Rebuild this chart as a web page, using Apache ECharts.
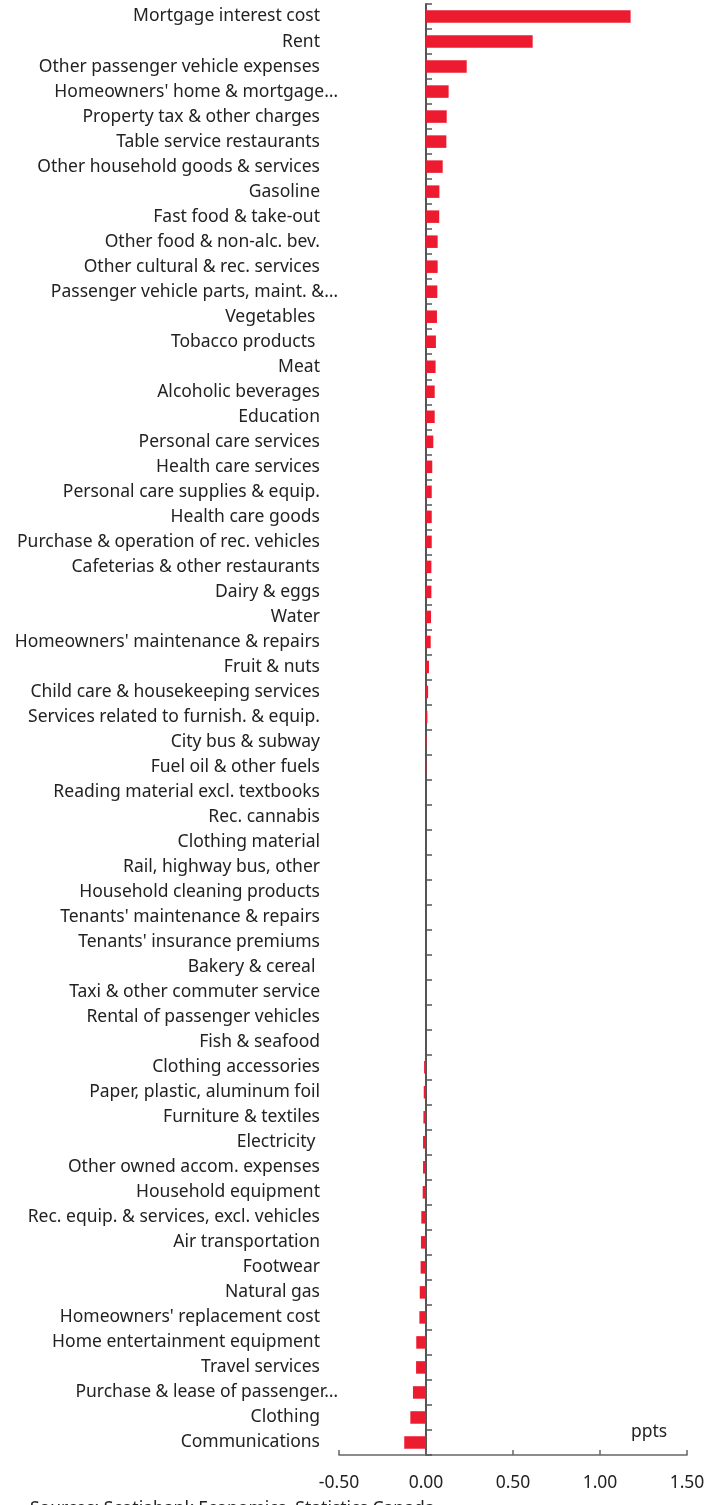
<!DOCTYPE html>
<html>
<head>
<meta charset="utf-8">
<script src="https://cdn.jsdelivr.net/npm/echarts@6/dist/echarts.min.js"></script>
<style>
  html, body { margin: 0; padding: 0; background: #fff; }
  #chart { width: 722px; height: 1505px; }
</style>
</head>
<body>
<div id="chart"></div>
<script>
// categories, top to bottom
var categories = [
  'Mortgage interest cost', 'Rent', 'Other passenger vehicle expenses',
  "Homeowners' home & mortgage…", 'Property tax & other charges',
  'Table service restaurants', 'Other household goods & services', 'Gasoline',
  'Fast food & take-out', 'Other food & non-alc. bev.', 'Other cultural & rec. services',
  'Passenger vehicle parts, maint. &…', 'Vegetables ', 'Tobacco products ', 'Meat',
  'Alcoholic beverages', 'Education', 'Personal care services', 'Health care services',
  'Personal care supplies & equip.', 'Health care goods',
  'Purchase & operation of rec. vehicles', 'Cafeterias & other restaurants',
  'Dairy & eggs', 'Water', "Homeowners' maintenance & repairs", 'Fruit & nuts',
  'Child care & housekeeping services', 'Services related to furnish. & equip.',
  'City bus & subway', 'Fuel oil & other fuels', 'Reading material excl. textbooks',
  'Rec. cannabis', 'Clothing material', 'Rail, highway bus, other',
  'Household cleaning products', "Tenants' maintenance & repairs",
  "Tenants' insurance premiums", 'Bakery & cereal ', 'Taxi & other commuter service',
  'Rental of passenger vehicles', 'Fish & seafood', 'Clothing accessories',
  'Paper, plastic, aluminum foil', 'Furniture & textiles', 'Electricity ',
  'Other owned accom. expenses', 'Household equipment',
  'Rec. equip. & services, excl. vehicles', 'Air transportation', 'Footwear',
  'Natural gas', "Homeowners' replacement cost", 'Home entertainment equipment',
  'Travel services', 'Purchase & lease of passenger…', 'Clothing', 'Communications'
];

// contribution, ppts
var values = [
  1.176, 0.613, 0.234, 0.130, 0.119, 0.117, 0.096, 0.077, 0.076, 0.067,
  0.067, 0.065, 0.063, 0.057, 0.055, 0.050, 0.050, 0.042, 0.036, 0.033,
  0.033, 0.033, 0.031, 0.031, 0.029, 0.027, 0.017, 0.012, 0.008, 0.003,
  0.002, 0.000, 0.000, 0.000, 0.000, 0.000, 0.000, 0.000, 0.000, 0.000,
  0.000, 0.000, -0.011, -0.013, -0.015, -0.017, -0.017, -0.019, -0.027, -0.029,
  -0.031, -0.036, -0.038, -0.056, -0.057, -0.075, -0.090, -0.125
];

var xMin = -0.5, xMax = 1.5, xStep = 0.5;

var chart = echarts.init(document.getElementById('chart'));

var option = {
  animation: false,
  textStyle: { fontFamily: 'Noto Sans' },
  grid: { left: 339, right: 35, top: 4, bottom: 50, containLabel: false, outerBoundsMode: 'none' },
  xAxis: {
    type: 'value',
    min: xMin, max: xMax, interval: xStep,
    axisLine: { show: true, lineStyle: { color: '#666', width: 1.5 } },
    axisTick: { show: true, inside: true, length: 5, lineStyle: { color: '#666', width: 1.5 } },
    splitLine: { show: false },
    axisLabel: {
      margin: 19, color: '#222', fontSize: 17.5, fontFamily: 'Noto Sans',
      formatter: function (v) { return v.toFixed(2); }
    }
  },
  yAxis: {
    type: 'category',
    data: categories,
    inverse: true,
    axisLine: { show: true, onZero: true, lineStyle: { color: '#555', width: 2 } },
    axisTick: { show: true, inside: true, length: 6, lineStyle: { color: '#555', width: 1.5 } },
    axisLabel: {
      margin: 1, color: '#222', fontSize: 17.5, fontFamily: 'Noto Sans',
      interval: 0,
      formatter: function (v) {
        return v.indexOf('…') >= 0 ? '{e|' + v + '}' : '{n|' + v + '}';
      },
      rich: {
        n: { padding: [0, 18, 0, 0], fontSize: 17.5, color: '#222', fontFamily: 'Noto Sans' },
        e: { fontSize: 17.5, color: '#222', fontFamily: 'Noto Sans' }
      }
    }
  },
  series: [{
    type: 'bar',
    data: values,
    barWidth: '50%',
    itemStyle: { color: '#ED1B2F' }
  }],
  graphic: [
    {
      type: 'text', left: 631, top: 1423,
      style: { text: 'ppts', fontSize: 17.5, fill: '#222', fontFamily: 'Noto Sans' }
    },
    {
      type: 'text', left: 30, top: 1500,
      style: { text: 'Sources: Scotiabank Economics, Statistics Canada.', fontSize: 17.5, fill: '#222', fontFamily: 'Noto Sans' }
    }
  ]
};

chart.setOption(option);
</script>
</body>
</html>
